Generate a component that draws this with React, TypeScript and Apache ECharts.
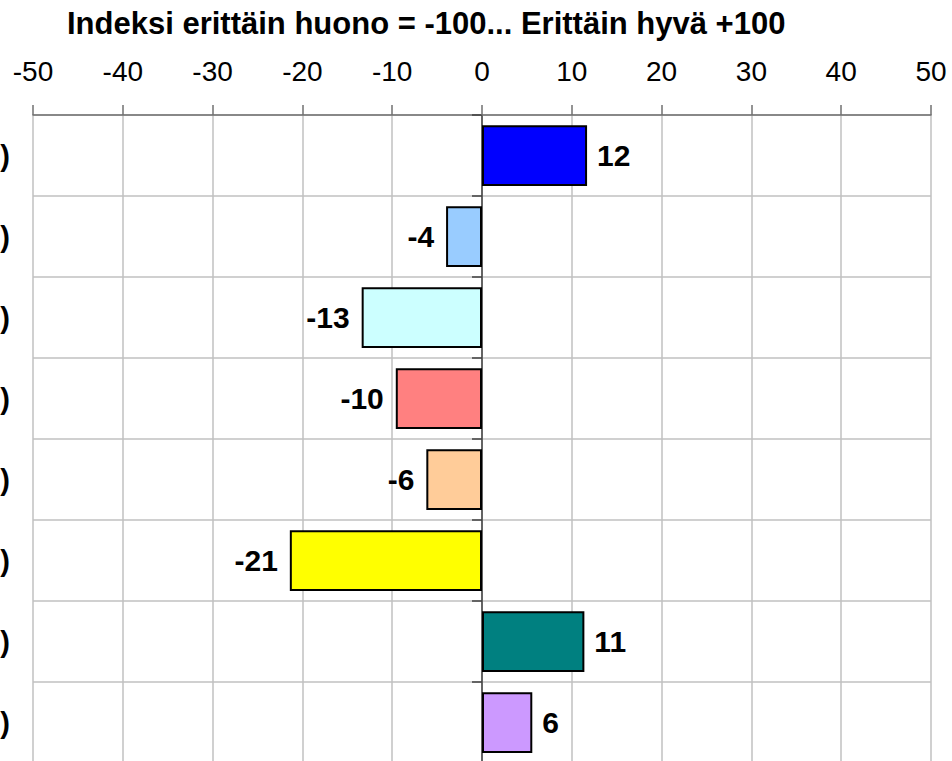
import React, { useEffect, useRef } from "react";
import * as echarts from "echarts";

const categories = [
  "Ryhmä 1 (n)",
  "Ryhmä 2 (n)",
  "Ryhmä 3 (n)",
  "Ryhmä 4 (n)",
  "Ryhmä 5 (n)",
  "Ryhmä 6 (n)",
  "Ryhmä 7 (n)",
  "Ryhmä 8 (n)",
];
const values = [11.7, -4.0, -13.4, -9.6, -6.2, -21.4, 11.4, 5.6];
const colors = ["#0000FF", "#99CCFF", "#CCFFFF", "#FF8080", "#FFCC99", "#FFFF00", "#008080", "#CC99FF"];
const titleText = "Indeksi erittäin huono = -100... Erittäin hyvä +100";

export default function App() {
  const ref = useRef<HTMLDivElement>(null);
  useEffect(() => {
    if (!ref.current) return;
    const chart = echarts.init(ref.current, undefined, { renderer: "svg" });
    const font = "'Liberation Sans', Arial, sans-serif";
    chart.setOption({
      animation: false,
      backgroundColor: "#ffffff",
      textStyle: { fontFamily: font },
      title: {
        text: titleText,
        left: 62,
        top: 3,
        textStyle: { fontFamily: font, fontSize: 31, fontWeight: "bold", color: "#000" },
      },
      grid: { left: 33, right: 21, top: 115, height: 648, containLabel: false, outerBoundsMode: "none" },
      xAxis: {
        type: "value",
        position: "top",
        min: -50,
        max: 50,
        interval: 10,
        axisLine: { show: true, onZero: false, lineStyle: { color: "#707070", width: 1.5 } },
        axisTick: { show: true, length: 10, lineStyle: { color: "#707070", width: 1.5 } },
        axisLabel: { fontSize: 28, color: "#000", margin: 30, fontFamily: font },
        splitLine: { show: true, lineStyle: { color: "#c0c0c0", width: 1.5 } },
      },
      yAxis: [
        {
          type: "category",
          data: categories,
          inverse: true,
          axisLine: { show: true, onZero: true, lineStyle: { color: "#404040", width: 1.5 } },
          axisTick: { show: true, length: 10, lineStyle: { color: "#404040", width: 1.5 } },
          axisLabel: { show: false },
          splitLine: { show: true, lineStyle: { color: "#c0c0c0", width: 1.5 } },
        },
        {
          type: "category",
          data: categories,
          inverse: true,
          position: "left",
          axisLine: { show: false, onZero: false },
          axisTick: { show: false },
          axisLabel: { show: true, fontSize: 29, fontWeight: "bold", color: "#000", margin: 23, fontFamily: font },
          splitLine: { show: false },
        },
      ],
      series: [
        {
          type: "bar",
          yAxisIndex: 0,
          barWidth: "75%",
          data: values.map((v, i) => ({
            value: v,
            itemStyle: { color: colors[i], borderColor: "#000", borderWidth: 2 },
            label: {
              show: true,
              position: v >= 0 ? "right" : "left",
              distance: v >= 0 ? 10 : 12,
              fontSize: 30,
              fontWeight: "bold",
              color: "#000",
              fontFamily: font,
              formatter: (p: any) => String(Math.round(p.value)),
            },
          })),
        },
      ],
    });
    return () => chart.dispose();
  }, []);
  return <div ref={ref} style={{ width: 952, height: 761, position: "absolute", left: 0, top: 0 }} />;
}
